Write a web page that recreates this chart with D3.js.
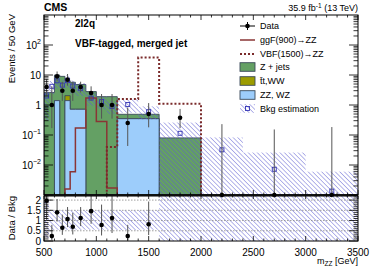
<!DOCTYPE html>
<html><head><meta charset="utf-8">
<script src="https://cdn.jsdelivr.net/npm/d3@7"></script>
<style>
body{margin:0;background:#fff;}
svg{display:block;font-family:"Liberation Sans",Arial,Helvetica,sans-serif;}
</style></head><body>
<svg id="c" width="374" height="268"></svg>
<script>
// ---------- data ----------
const binEdges   = [500,550,600,650,700,750,800,900,1000,1100,1200,1400,1600,2000,2400,3000,3500];
const dataValues = [4,1,9,3,7,3,4,2.5,1,1,0.25,0.5,0.375,0,0,0];
const dataErrLow = [2.09,0.17,6.06,1.37,4.42,1.37,2.62,1.42,0.35,0.35,0.043,0.18,0.17,0,0,0];
const dataErrHigh= [7.16,4.2,13.1,5.92,10.8,5.92,5.98,4.19,2.32,2.32,0.83,1.16,0.74,0.23,0.153,0.184];
const zjets      = [2.6,2.6,8.6,9,4.4,5.0,4.1,2.8,1.9,1.9,0.14,0.14,0.08,0,0,0];
const ttww       = [0,0,0,0,0.65,0,0,0,0,0,0,0,0,0,0,0];
const zzwz       = [0,0,1.4,0,1.4,0.72,0.72,0,0,0,0.35,0.35,0,0,0,0];
const ggF900     = [0,0,0,0,0.0016,0.006,0.17,1.7,0.28,0.0017,0,0,0,0,0,0];
const vbf1500    = [0,0,0,0,0,0,0,0,0,0.04,1.6,38,1.1,0,0,0];
const bkgEst     = [2.0,4.2,6.4,4.6,6.5,4.3,3.6,1.7,1.3,0.9,1.04,0.6,0.114,0.032,0.0072,0.00135];
const bkgEstLow  = [0.3,2.3,3.5,2.5,3.6,2.4,2.0,0.95,0.7,0.5,0.55,0.33,0,0,0,0];
const bkgEstHigh = [4.0,6.3,9.6,6.9,9.8,6.5,5.4,2.6,1.9,1.35,1.55,0.9,0.26,0.083,0.026,0.006];
const ratioValues  = [1.97,0.24,1.4,0.65,1.07,0.7,1.12,1.46,0.78,1.12,0.24,0.82];
const ratioErrLow  = [1.03,0.04,0.95,0.3,0.68,0.32,0.73,0.84,0.27,0.39,0.04,0.29];
const ratioErrHigh = [3.5,0.79,2.05,1.29,1.66,1.38,1.66,2.46,1.78,2.58,0.79,1.93];
const ratioBandLow  = [0.15,0.55,0.55,0.55,0.55,0.55,0.55,0.55,0.55,0.55,0.53,0.55,0,0,0,0];
const ratioBandHigh = [2.0,1.5,1.5,1.5,1.5,1.5,1.5,1.5,1.5,1.5,1.5,1.5,2.2,2.2,2.2,2.2];
const xTickValues = [500,1000,1500,2000,2500,3000,3500];
const yTickValues = [100,10,1,0.1,0.01];
const yTickLabels = [["10","2"],["10",""],["1",""],["10","-1"],["10","-2"]];
const rTickValues = [0,0.5,1,1.5,2];
const rTickLabels = ["0","0.5","1","1.5","2"];
const legendLabels = ["Data","ggF(900)\u2192ZZ","VBF(1500)\u2192ZZ","Z + jets","t\u0304t,WW","ZZ, WZ","Bkg estimation"];

// ---------- styles ----------
const C = {zj:"#64a064", tt:"#9c9c00", zz:"#9dcdfb", edge:"#3b4a5a", ggf:"#8a3535", vbf:"#7a2a2a", hatch:"#5a5ad0", sq:"#3434b4"};
const L=44,R=358,T=15,B=195,RT=196,RB=241;

const svg = d3.select("#c");
const defs = svg.append("defs");
const pat = defs.append("pattern").attr("id","hatch").attr("patternUnits","userSpaceOnUse")
  .attr("width",3.2).attr("height",3.2).attr("patternTransform","rotate(-45)");
pat.append("line").attr("x1",0).attr("y1",0).attr("x2",0).attr("y2",3.2).attr("stroke",C.hatch).attr("stroke-width",0.9);
defs.append("clipPath").attr("id","mainClip").append("rect").attr("x",L).attr("y",T).attr("width",R-L).attr("height",B-T-0.6);
defs.append("clipPath").attr("id","ratClip").append("rect").attr("x",L).attr("y",RT).attr("width",R-L).attr("height",RB-RT);

const x = d3.scaleLinear().domain([500,3500]).range([L,R]);
const y = d3.scaleLog().domain([1e-3,1e3]).range([B,T]).clamp(true);
const yr = d3.scaleLinear().domain([0,2.2]).range([RB,RT]).clamp(true);
const yv = v => v>0 ? y(v) : B+2;

const nb = binEdges.length-1;
const centers = d3.range(nb).map(i => (binEdges[i]+binEdges[i+1])/2);

// stacked background
const stackRows = d3.range(nb).map(i => ({zz:zzwz[i], tt:ttww[i], zj:zjets[i]}));
const stacked = d3.stack().keys(["zz","tt","zj"])(stackRows);
function stepPts(vals){ const p = vals.map((v,i)=>[binEdges[i],v]); p.push([binEdges[nb],vals[nb-1]]); return p; }
const area = d3.area().x(d=>x(d[0])).y0(B).y1(d=>yv(d[1])).curve(d3.curveStepAfter);
const line = d3.line().x(d=>x(d[0])).y(d=>yv(d[1])).curve(d3.curveStepAfter);

const gMain = svg.append("g").attr("clip-path","url(#mainClip)");
const layerOrder = [["zj",C.zj],["tt",C.tt],["zz",C.zz]];
layerOrder.forEach(([k,col])=>{
  const s = stacked.find(d=>d.key===k);
  const tops = s.map(d=>d[1]);
  const keyVals = k==="zz"?zzwz:(k==="tt"?ttww:zjets);
  const vals = tops.map((t,i)=> (keyVals[i]>0 || k==="zj") ? t : (k==="tt" ? (zzwz[i]>0?zzwz[i]:0) : 0));
  gMain.append("path").attr("d",area(stepPts(vals))).attr("fill",col).attr("stroke",C.edge).attr("stroke-width",0.9);
});

// bkg estimation band
gMain.selectAll(".band").data(d3.range(nb)).join("rect")
  .attr("x",i=>x(binEdges[i])).attr("width",i=>x(binEdges[i+1])-x(binEdges[i]))
  .attr("y",i=>yv(bkgEstHigh[i])).attr("height",i=>yv(bkgEstLow[i])-yv(bkgEstHigh[i]))
  .attr("fill","url(#hatch)");

// signals
gMain.append("path").attr("d",line(stepPts(ggF900))).attr("fill","none").attr("stroke",C.ggf).attr("stroke-width",1.5);
gMain.append("path").attr("d",line(stepPts(vbf1500))).attr("fill","none").attr("stroke",C.vbf).attr("stroke-width",2).attr("stroke-dasharray","2,2");

// bkg squares
svg.append("g").selectAll("rect").data(d3.range(nb)).join("rect")
  .attr("x",i=>x(centers[i])-2).attr("y",i=>y(bkgEst[i])-2).attr("width",4).attr("height",4)
  .attr("fill","none").attr("stroke",C.sq).attr("stroke-width",0.9);

// data
const gD = svg.append("g");
gD.selectAll("line").data(d3.range(nb)).join("line")
  .attr("x1",i=>x(centers[i])).attr("x2",i=>x(centers[i]))
  .attr("y1",i=>yv(dataErrHigh[i])).attr("y2",i=>dataErrLow[i]>0?y(dataErrLow[i]):B)
  .attr("stroke","#555").attr("stroke-width",1);
gD.selectAll("circle").data(d3.range(nb)).join("circle")
  .attr("cx",i=>x(centers[i])).attr("cy",i=>dataValues[i]>0?y(dataValues[i]):B).attr("r",2.3).attr("fill","#000");

// ---------- ratio panel ----------
const gR = svg.append("g").attr("clip-path","url(#ratClip)");
gR.selectAll(".rb").data(d3.range(nb)).join("rect")
  .attr("x",i=>x(binEdges[i])).attr("width",i=>x(binEdges[i+1])-x(binEdges[i]))
  .attr("y",i=>yr(ratioBandHigh[i])).attr("height",i=>yr(ratioBandLow[i])-yr(ratioBandHigh[i]))
  .attr("fill","url(#hatch)");
[0.5,1,1.5,2].forEach(v=>gR.append("line").attr("x1",L).attr("x2",R).attr("y1",yr(v)).attr("y2",yr(v))
  .attr("stroke","#888").attr("stroke-width",0.8).attr("stroke-dasharray","1.5,1.5"));
const ri = d3.range(ratioValues.length);
gR.selectAll(".re").data(ri).join("line")
  .attr("x1",i=>x(centers[i])).attr("x2",i=>x(centers[i]))
  .attr("y1",i=>yr(ratioErrHigh[i])).attr("y2",i=>yr(ratioErrLow[i]))
  .attr("stroke","#555").attr("stroke-width",1);
gR.selectAll("circle").data(ri).join("circle")
  .attr("cx",i=>x(centers[i])).attr("cy",i=>yr(ratioValues[i])).attr("r",2.3).attr("fill","#000");

// ---------- frames & ticks ----------
const gA = svg.append("g").attr("stroke","#000").attr("fill","none");
gA.append("rect").attr("x",L).attr("y",T).attr("width",R-L).attr("height",B-T).attr("stroke-width",1);
gA.append("rect").attr("x",L).attr("y",RT).attr("width",R-L).attr("height",RB-RT).attr("stroke-width",1);
gA.append("line").attr("x1",L).attr("x2",R).attr("y1",B).attr("y2",B).attr("stroke-width",1.6);
const tick=(x1,y1,x2,y2)=>gA.append("line").attr("x1",x1).attr("y1",y1).attr("x2",x2).attr("y2",y2).attr("stroke-width",0.8);
for(let v=500; v<=3500; v+=100){
  const maj = v%500===0, px=x(v), l=maj?5:2.5;
  tick(px,B,px,B-l); tick(px,T,px,T+l); tick(px,RB,px,RB-l); tick(px,RT,px,RT+l*0.6);
}
for(let e=-3;e<3;e++){
  for(let m=1;m<10;m++){
    const v=m*Math.pow(10,e), py=y(v), l=m===1?9:4.5;
    if(py<T||py>B) continue;
    tick(L,py,L+l,py); tick(R,py,R-l,py);
  }
}
for(let v=0; v<=2.2001; v+=0.1){
  const vv=Math.round(v*10)/10, maj=Math.abs(vv*2-Math.round(vv*2))<1e-6, py=yr(vv), l=maj?9:4.5;
  tick(L,py,L+l,py); tick(R,py,R-l,py);
}

// ---------- text ----------
const gT = svg.append("g").attr("fill","#000");
xTickValues.forEach(v=>gT.append("text").attr("x",x(v)).attr("y",256).attr("text-anchor","middle").attr("font-size",10).text(v));
yTickValues.forEach((v,i)=>{
  const t=gT.append("text").attr("x",41).attr("y",y(v)+3.5).attr("text-anchor","end").attr("font-size",10);
  t.append("tspan").text(yTickLabels[i][0]);
  if(yTickLabels[i][1]) t.append("tspan").attr("font-size",7).attr("dy",-4.5).text(yTickLabels[i][1].replace("-","\u2212"));
});
rTickValues.forEach((v,i)=>gT.append("text").attr("x",41).attr("y",yr(v)+3.5).attr("text-anchor","end").attr("font-size",10).text(rTickLabels[i]));

gT.append("text").attr("transform","translate(15,14) rotate(-90)").attr("text-anchor","end").attr("font-size",9.5).text("Events / 50 GeV");
gT.append("text").attr("transform","translate(15,196) rotate(-90)").attr("text-anchor","end").attr("font-size",9.5).text("Data / Bkg");
const xt = gT.append("text").attr("x",358).attr("y",264).attr("text-anchor","end").attr("font-size",9);
xt.append("tspan").text("m");
xt.append("tspan").attr("font-size",6.5).attr("dy",2).text("ZZ");
xt.append("tspan").attr("dy",-2).text(" [GeV]");

gT.append("text").attr("x",44).attr("y",11).attr("font-size",10.5).attr("font-weight","bold").text("CMS");
const lumi = gT.append("text").attr("x",358).attr("y",11).attr("text-anchor","end").attr("font-size",9);
lumi.append("tspan").text("35.9 fb");
lumi.append("tspan").attr("font-size",6.5).attr("dy",-3.5).text("-1");
lumi.append("tspan").attr("dy",3.5).text(" (13 TeV)");
gT.append("text").attr("x",75).attr("y",27).attr("font-size",10).attr("font-weight","bold").text("2l2q");
gT.append("text").attr("x",75).attr("y",47).attr("font-size",10).attr("font-weight","bold").text("VBF-tagged, merged jet");

// ---------- legend ----------
const legY = [26,40,54,67,81,95,108.5];
const gL = svg.append("g");
const lx0=240, lx1=255, lxt=260;
gL.append("line").attr("x1",lx0).attr("x2",lx1).attr("y1",legY[0]).attr("y2",legY[0]).attr("stroke","#000").attr("stroke-width",1);
gL.append("line").attr("x1",247.5).attr("x2",247.5).attr("y1",legY[0]-4).attr("y2",legY[0]+4).attr("stroke","#000").attr("stroke-width",1);
gL.append("circle").attr("cx",247.5).attr("cy",legY[0]).attr("r",2.3).attr("fill","#000");
gL.append("line").attr("x1",lx0).attr("x2",lx1).attr("y1",legY[1]).attr("y2",legY[1]).attr("stroke",C.ggf).attr("stroke-width",1.5);
gL.append("line").attr("x1",lx0).attr("x2",lx1).attr("y1",legY[2]).attr("y2",legY[2]).attr("stroke",C.vbf).attr("stroke-width",2).attr("stroke-dasharray","2,2");
[[3,C.zj],[4,C.tt],[5,C.zz],[6,"url(#hatch)"]].forEach(([k,col])=>{
  gL.append("rect").attr("x",lx0).attr("y",legY[k]-4.3).attr("width",15).attr("height",8.6)
    .attr("fill",col).attr("stroke",k===6?"none":C.edge).attr("stroke-width",0.9);
});
gL.append("rect").attr("x",247.5-2).attr("y",legY[6]-2).attr("width",4).attr("height",4).attr("fill","none").attr("stroke",C.sq).attr("stroke-width",0.9);
legendLabels.forEach((t,i)=>gL.append("text").attr("x",lxt).attr("y",legY[i]+3.2).attr("font-size",9).text(t));
</script>
</body></html>
